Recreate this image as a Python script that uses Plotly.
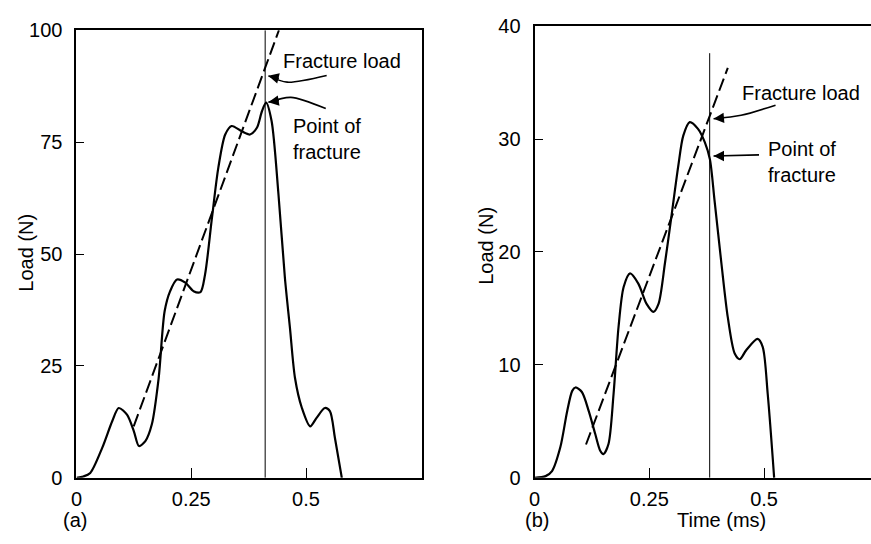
import plotly.graph_objects as go

# ---------------- data ----------------
# Panel (a)
a_time = [0.0, 0.015, 0.030, 0.056, 0.078, 0.092, 0.110, 0.125, 0.136, 0.150, 0.164, 0.179,
          0.192, 0.204, 0.219, 0.237, 0.255, 0.270, 0.280, 0.295, 0.309, 0.324, 0.338, 0.360,
          0.378, 0.393, 0.404, 0.413, 0.425, 0.440, 0.454, 0.465, 0.476, 0.491, 0.509, 0.523,
          0.541, 0.552, 0.563, 0.578]
a_load = [0.0, 0.3, 1.1, 6.7, 12.7, 15.6, 14.1, 10.4, 7.1, 8.2, 11.9, 22.3,
          37.2, 41.7, 44.3, 43.6, 41.7, 41.5, 45.4, 58.0, 69.3, 76.7, 78.6, 77.4,
          76.7, 78.2, 81.9, 83.8, 79.7, 63.3, 44.7, 33.5, 22.3, 15.6, 11.5, 13.4,
          15.6, 14.9, 8.9, 0.0]
a_fit_time = [0.1246, 0.441]
a_fit_load = [11.5, 100.0]
a_fracture_time = 0.411
a_yticks = [0, 25, 50, 75, 100]
# curved arrow shafts (panel a)
a_arrow1_time = [0.545, 0.459, 0.418]
a_arrow1_load = [89.9, 88.4, 89.8]
a_arrow2_time = [0.543, 0.467, 0.418]
a_arrow2_load = [82.5, 85.0, 83.9]

# Panel (b)
b_time = [0.0, 0.024, 0.038, 0.056, 0.071, 0.082, 0.089, 0.103, 0.118, 0.132, 0.143, 0.150,
          0.161, 0.172, 0.183, 0.194, 0.208, 0.226, 0.244, 0.259, 0.270, 0.284, 0.298, 0.313,
          0.324, 0.338, 0.356, 0.371, 0.382, 0.392, 0.407, 0.421, 0.436, 0.447, 0.461, 0.486,
          0.497, 0.508, 0.522]
b_load = [0.0, 0.15, 0.6, 2.7, 5.9, 7.7, 8.0, 7.6, 5.9, 3.9, 2.4, 2.1,
          3.0, 7.4, 13.4, 16.9, 18.1, 17.2, 15.4, 14.7, 15.4, 19.0, 23.1, 27.6,
          30.3, 31.5, 30.9, 29.7, 28.2, 24.6, 19.0, 14.2, 11.0, 10.5, 11.3, 12.3,
          11.6, 7.4, 0.0]
b_fit_time = [0.112, 0.421]
b_fit_load = [2.95, 36.3]
b_fracture_time = 0.3815
b_fracture_top = 37.6
b_yticks = [0, 10, 20, 30, 40]
# arrow shafts (panel b)
b_arrow1_time = [0.525, 0.45, 0.39]
b_arrow1_load = [33.0, 32.1, 31.8]
b_arrow2_time = [0.489, 0.39]
b_arrow2_load = [28.6, 28.5]

x_ticks = [0, 0.25, 0.5]
x_ticktext = ["0", "0.25", "0.5"]

FONT = "Liberation Sans"
FS = 20

fig = go.Figure()


def line(xs, ys, ax, width=2.2, dash=None, spline=False):
    ln = dict(color="black", width=width)
    if dash:
        ln["dash"] = dash
    if spline:
        ln["shape"] = "spline"
        ln["smoothing"] = 0.8
    fig.add_trace(go.Scatter(x=xs, y=ys, mode="lines", line=ln,
                             xaxis="x" if ax == 1 else "x2",
                             yaxis="y" if ax == 1 else "y2", hoverinfo="skip"))


# panel a
line(a_time, a_load, 1, spline=True)
line(a_fit_time, a_fit_load, 1, width=2, dash="13px,5px")
line([a_fracture_time, a_fracture_time], [0, 100], 1, width=1)
line(a_arrow1_time, a_arrow1_load, 1, width=1.6, spline=True)
line(a_arrow2_time, a_arrow2_load, 1, width=1.6, spline=True)
# panel b
line(b_time, b_load, 2, spline=True)
line(b_fit_time, b_fit_load, 2, width=2, dash="13px,5px")
line([b_fracture_time, b_fracture_time], [0, b_fracture_top], 2, width=1)
line(b_arrow1_time, b_arrow1_load, 2, width=1.6, spline=True)
line(b_arrow2_time, b_arrow2_load, 2, width=1.6)

axis_common = dict(showgrid=False, zeroline=False, showline=True, linecolor="black",
                   linewidth=2, ticks="inside", tickcolor="black", tickwidth=1.2,
                   tickfont=dict(family=FONT, size=FS, color="black"))

fig.update_layout(
    width=871, height=544,
    margin=dict(l=0, r=0, t=0, b=0),
    paper_bgcolor="white", plot_bgcolor="white",
    showlegend=False,
    xaxis=dict(domain=[0.0815, 0.4811], range=[0, 0.753], tickvals=x_ticks, ticktext=x_ticktext,
               ticklen=10, mirror=True, anchor="y", ticklabelstandoff=2, **axis_common),
    yaxis=dict(domain=[0.1057, 0.9632], range=[0, 100], tickvals=a_yticks,
               ticklen=8, mirror=True, anchor="x", ticklabelstandoff=8, **axis_common),
    xaxis2=dict(domain=[0.6111, 1.0], range=[0, 0.733], tickvals=x_ticks, ticktext=x_ticktext,
                ticklen=10, mirror=True, anchor="y2", ticklabelstandoff=2, **axis_common),
    yaxis2=dict(domain=[0.1057, 0.9711], range=[0, 40], tickvals=b_yticks,
                ticklen=8, mirror=False, anchor="x2", ticklabelstandoff=8, **axis_common),
)

tf = dict(family=FONT, size=FS, color="black")
head = dict(text="", showarrow=True, arrowhead=2, arrowsize=1.3, arrowwidth=1.6,
            arrowcolor="black")
ann = []
# panel a text + arrowheads
ann.append(dict(x=0.446, y=93.1, xref="x", yref="y", text="Fracture load", showarrow=False,
                xanchor="left", yanchor="middle", font=tf))
ann.append(dict(x=a_arrow1_time[-1], y=a_arrow1_load[-1], ax=12, ay=3, xref="x", yref="y", **head))
ann.append(dict(x=0.467, y=75.8, xref="x", yref="y", text="Point of<br>fracture", showarrow=False,
                xanchor="left", yanchor="middle", align="left", font=tf))
ann.append(dict(x=a_arrow2_time[-1], y=a_arrow2_load[-1], ax=12, ay=-2, xref="x", yref="y", **head))
# panel b text + arrowheads
ann.append(dict(x=0.4465, y=34.1, xref="x2", yref="y2", text="Fracture load", showarrow=False,
                xanchor="left", yanchor="middle", font=tf))
ann.append(dict(x=b_arrow1_time[-1], y=b_arrow1_load[-1], ax=12, ay=-1, xref="x2", yref="y2", **head))
ann.append(dict(x=0.504, y=28.0, xref="x2", yref="y2", text="Point of<br>fracture", showarrow=False,
                xanchor="left", yanchor="middle", align="left", font=tf))
ann.append(dict(x=b_arrow2_time[-1], y=b_arrow2_load[-1], ax=12, ay=0, xref="x2", yref="y2", **head))
# axis titles and panel labels
ann.append(dict(x=20 / 871, y=1 - 252 / 544, xref="paper", yref="paper", text="Load (N)",
                textangle=-90, showarrow=False, xanchor="center", yanchor="middle", font=tf))
ann.append(dict(x=483 / 871, y=1 - 245 / 544, xref="paper", yref="paper", text="Load (N)",
                textangle=-90, showarrow=False, xanchor="center", yanchor="middle", font=tf))
ann.append(dict(x=69 / 871, y=1 - 530 / 544, xref="paper", yref="paper", text="(a)",
                showarrow=False, xanchor="center", yanchor="middle", font=tf))
ann.append(dict(x=535 / 871, y=1 - 530 / 544, xref="paper", yref="paper", text="(b)",
                showarrow=False, xanchor="center", yanchor="middle", font=tf))
ann.append(dict(x=720 / 871, y=1 - 530 / 544, xref="paper", yref="paper", text="Time (ms)",
                showarrow=False, xanchor="center", yanchor="middle", font=tf))
fig.update_layout(annotations=ann)

fig.write_html("out.html", config={"displayModeBar": False},
               post_script="document.body.style.margin='0';")
